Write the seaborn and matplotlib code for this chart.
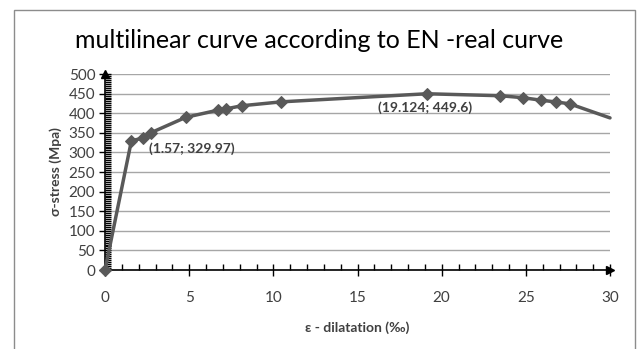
import matplotlib
matplotlib.use("Agg")
import matplotlib.pyplot as plt
import seaborn as sns
import pandas as pd
from matplotlib.ticker import MultipleLocator
from matplotlib.patches import Rectangle

# data
strain = [0, 1.57, 2.24, 2.72, 4.8, 6.73, 7.18, 8.13, 10.48, 19.124, 23.47, 24.82, 25.93, 26.8, 27.6, 30.0]
stress = [0, 329.97, 336, 350, 389.5, 408, 411, 419, 429, 449.6, 444.6, 439.6, 433, 428.6, 424, 388]
has_marker = [True] * 15 + [False]
annotations = [("(1.57; 329.97)", 1.57, 329.97), ("(19.124; 449.6)", 19.124, 449.6)]

x_ticks = [0, 5, 10, 15, 20, 25, 30]
y_ticks = [0, 50, 100, 150, 200, 250, 300, 350, 400, 450, 500]

df = pd.DataFrame({"strain": strain, "stress": stress})

sns.set_theme(style="white")
plt.rcParams['font.family'] = ['Lato', 'DejaVu Sans']

fig = plt.figure(figsize=(6.38, 3.49), dpi=100)
ax = fig.add_axes([105 / 638, 1 - 270 / 349, (610 - 105) / 638, (270 - 74) / 349])

col = "#595959"
sns.lineplot(data=df, x="strain", y="stress", ax=ax, color=col, linewidth=2.5,
             marker="D", markersize=6.5, markeredgecolor=col, markerfacecolor=col,
             markevery=[i for i, m in enumerate(has_marker) if m], clip_on=False, zorder=3)

ax.set_xlim(0, 30)
ax.set_ylim(0, 500)
ax.set_xticks(x_ticks)
ax.set_yticks(y_ticks)
ax.xaxis.set_minor_locator(MultipleLocator(1))
ax.yaxis.set_minor_locator(MultipleLocator(5))
ax.yaxis.grid(True, color="#a6a6a6", linewidth=1)
ax.xaxis.grid(False)
ax.set_axisbelow(True)
for s in ["top", "right"]:
    ax.spines[s].set_visible(False)
for s in ["left", "bottom"]:
    ax.spines[s].set_color("black")
    ax.spines[s].set_linewidth(1.2)
ax.tick_params(axis="both", which="major", direction="inout", length=8, width=1, color="black",
               labelsize=11, labelcolor="#404040", bottom=True, left=True)
ax.tick_params(axis="both", which="minor", direction="in", length=4, width=1, color="black",
               bottom=True, left=True)
ax.tick_params(axis="x", which="major", pad=11)
ax.tick_params(axis="y", which="major", pad=3)

# axis arrows
ax.plot(1, 0, ">", color="black", markersize=6, transform=ax.transAxes, clip_on=False)
ax.plot(0, 1, "^", color="black", markersize=6, transform=ax.transAxes, clip_on=False)

ax.set_xlabel("ε - dilatation (‰)", fontsize=10, fontweight="bold", color="#404040", labelpad=12)
ax.set_ylabel("σ-stress (Mpa)", fontsize=10, fontweight="bold", color="#404040", labelpad=5)

for txt, x, y in annotations:
    if x < 5:
        ax.annotate(txt, (x, y), xytext=(13, -6), textcoords="offset points", ha="left", va="center",
                    fontsize=10, fontweight="bold", color="#404040")
    else:
        ax.annotate(txt, (x, y), xytext=(-1, -10), textcoords="offset points", ha="center", va="center",
                    fontsize=10, fontweight="bold", color="#404040")

fig.text(0.5, 1 - 40 / 349, "multilinear curve according to EN -real curve", ha="center", va="center",
         fontsize=18, color="black")

fig.patches.append(Rectangle((14 / 638, -0.05), (635 - 14) / 638, 1 - 10 / 349 + 0.05,
                             transform=fig.transFigure, fill=False, edgecolor="#8c8c8c", linewidth=1))

fig.savefig("out.png", dpi=100)
